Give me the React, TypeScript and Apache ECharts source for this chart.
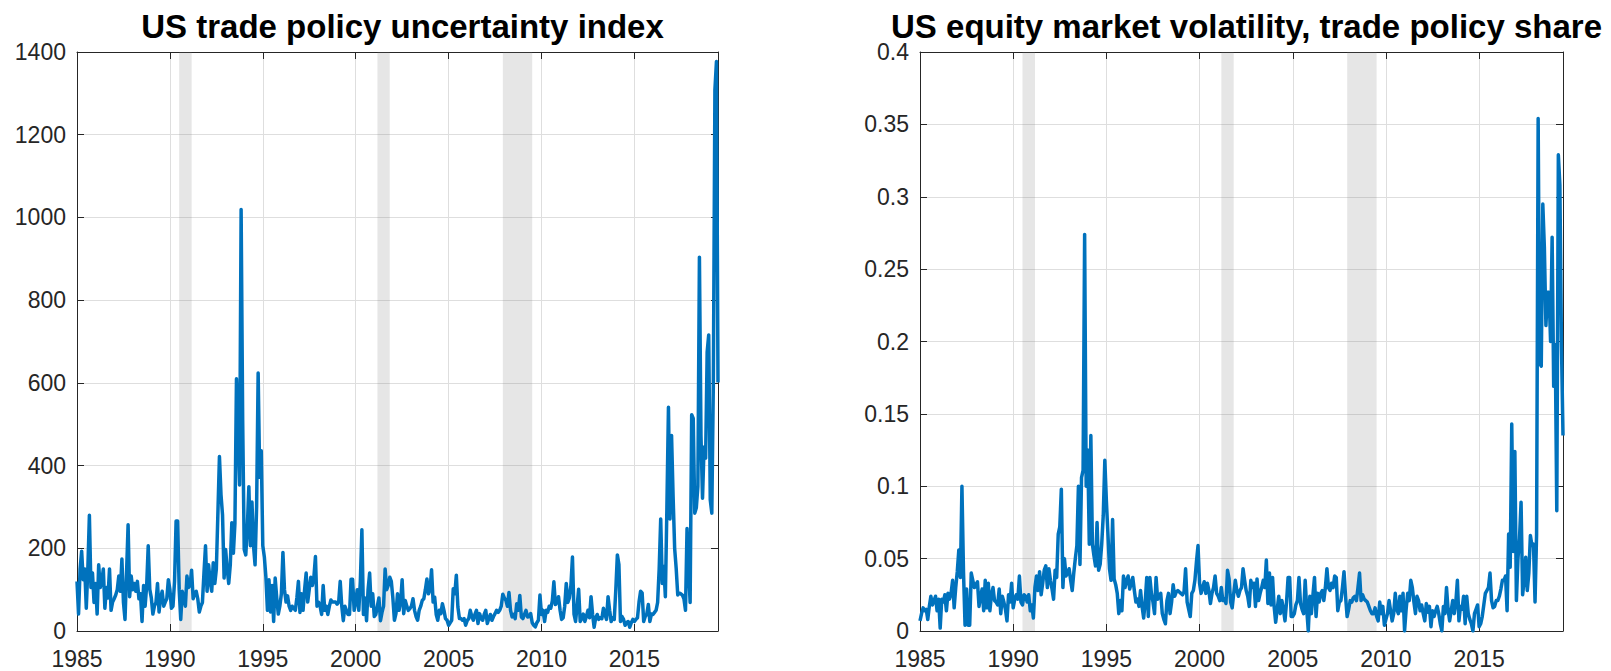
import React, { useEffect, useRef } from "react";
import * as echarts from "echarts";

const START_YEAR = 1985;

// US trade policy uncertainty index, monthly from Jan 1985
const tpuIndex = [
  120, 41, 150, 193, 124, 150, 55, 150, 280, 105, 140, 69,
  115, 41, 160, 105, 120, 150, 55, 105, 80, 150, 50, 70,
  78, 87, 100, 133, 96, 174, 69, 28, 140, 257, 83, 133,
  100, 115, 96, 120, 78, 90, 23, 110, 60, 110, 206, 101,
  80, 41, 60, 69, 115, 46, 80, 96, 60, 70, 78, 124,
  100, 55, 60, 120, 266, 266, 100, 28, 96, 80, 60, 133,
  105, 110, 147, 78, 90, 96, 78, 46, 60, 69, 140, 206,
  96, 160, 120, 96, 165, 115, 150, 285, 422, 330, 280, 128,
  197, 150, 115, 160, 262, 188, 260, 610, 491, 353, 1019, 510,
  197, 184, 250, 349, 206, 312, 206, 160, 300, 624, 372, 436,
  206, 179, 130, 50, 124, 46, 110, 23, 128, 80, 41, 60,
  90, 190, 100, 70, 85, 60, 50, 60, 55, 50, 80, 120,
  45, 90, 50, 100, 140, 70, 100, 130, 110, 130, 180, 60,
  70, 60, 40, 110, 50, 60, 40, 60, 75, 70, 70, 70,
  65, 70, 120, 60, 25, 60, 50, 40, 40, 125, 125, 50,
  70, 100, 50, 120, 245, 40, 80, 25, 100, 140, 60, 90,
  35, 40, 60, 80, 25, 45, 60, 150, 100, 110, 130, 120,
  80, 26, 42, 90, 50, 70, 124, 42, 74, 60, 50, 54,
  60, 78, 50, 35, 26, 50, 60, 74, 78, 100, 126, 90,
  100, 148, 70, 82, 40, 26, 50, 42, 66, 50, 30, 26,
  14, 20, 26, 102, 90, 135, 58, 30, 30, 26, 30, 14,
  25, 30, 50, 35, 26, 40, 50, 18, 42, 30, 26, 40,
  50, 18, 30, 40, 26, 35, 42, 50, 45, 50, 60, 89,
  80, 74, 60, 93, 50, 34, 40, 30, 66, 50, 86, 34,
  30, 40, 50, 34, 35, 42, 20, 14, 10, 20, 26, 87,
  40, 50, 23, 50, 45, 60, 55, 73, 119, 64, 70, 83,
  50, 28, 32, 60, 115, 69, 80, 110, 179, 41, 23, 60,
  101, 23, 30, 41, 23, 35, 50, 32, 83, 40, 9, 32,
  40, 28, 32, 30, 55, 40, 28, 83, 50, 23, 32, 28,
  100, 184, 161, 23, 35, 28, 14, 20, 23, 9, 20, 28,
  23, 28, 32, 70, 96, 92, 23, 35, 41, 64, 23, 41,
  40, 45, 50, 69, 150, 271, 115, 156, 83, 300, 541, 271,
  473, 326, 200, 151, 87, 92, 90, 87, 78, 50, 248, 150,
  69, 523, 514, 285, 298, 350, 904, 473, 321, 445, 418, 675,
  716, 317, 285, 601, 1308, 1377, 601,
];

// US equity market volatility, trade policy share, monthly from Jan 1985
const tradeShare = [
  0.007, 0.012, 0.016, 0.014, 0.015, 0.008, 0.017, 0.024, 0.018, 0.021, 0.024, 0.014,
  0.022, 0.002, 0.022, 0.020, 0.025, 0.014, 0.026, 0.022, 0.026, 0.035, 0.016, 0.030,
  0.041, 0.056, 0.037, 0.100, 0.041, 0.004, 0.029, 0.004, 0.004, 0.040, 0.035, 0.030,
  0.032, 0.034, 0.017, 0.024, 0.029, 0.014, 0.035, 0.016, 0.033, 0.014, 0.025, 0.030,
  0.021, 0.020, 0.018, 0.029, 0.012, 0.024, 0.020, 0.015, 0.007, 0.025, 0.020, 0.033,
  0.016, 0.022, 0.025, 0.022, 0.038, 0.020, 0.018, 0.025, 0.024, 0.020, 0.025, 0.014,
  0.018, 0.009, 0.030, 0.038, 0.028, 0.041, 0.025, 0.033, 0.042, 0.045, 0.030, 0.043,
  0.035, 0.029, 0.022, 0.042, 0.037, 0.067, 0.072, 0.098, 0.030, 0.050, 0.038, 0.040,
  0.043, 0.035, 0.028, 0.040, 0.050, 0.059, 0.100, 0.046, 0.106, 0.111, 0.274, 0.100,
  0.125, 0.060, 0.135, 0.060, 0.052, 0.045, 0.075, 0.042, 0.046, 0.060, 0.080, 0.118,
  0.090, 0.067, 0.043, 0.035, 0.077, 0.036, 0.032, 0.026, 0.012, 0.021, 0.014, 0.038,
  0.030, 0.035, 0.038, 0.029, 0.033, 0.037, 0.028, 0.020, 0.022, 0.017, 0.028, 0.017,
  0.009, 0.020, 0.037, 0.010, 0.037, 0.026, 0.020, 0.012, 0.037, 0.022, 0.024, 0.026,
  0.012, 0.008, 0.005, 0.021, 0.026, 0.012, 0.020, 0.032, 0.024, 0.027, 0.028, 0.027,
  0.026, 0.025, 0.027, 0.043, 0.020, 0.015, 0.010, 0.026, 0.028, 0.035, 0.048, 0.059,
  0.033, 0.026, 0.030, 0.034, 0.026, 0.033, 0.028, 0.019, 0.026, 0.030, 0.038, 0.026,
  0.024, 0.021, 0.030, 0.021, 0.022, 0.019, 0.042, 0.036, 0.020, 0.016, 0.026, 0.035,
  0.028, 0.024, 0.028, 0.030, 0.043, 0.035, 0.028, 0.024, 0.017, 0.035, 0.030, 0.033,
  0.017, 0.036, 0.021, 0.026, 0.030, 0.035, 0.030, 0.049, 0.019, 0.040, 0.018, 0.037,
  0.017, 0.006, 0.015, 0.024, 0.012, 0.021, 0.015, 0.007, 0.020, 0.037, 0.037, 0.010,
  0.010, 0.012, 0.018, 0.021, 0.037, 0.019, 0.015, 0.012, 0.035, 0.015, 0.000, 0.024,
  0.012, 0.025, 0.037, 0.010, 0.026, 0.020, 0.026, 0.028, 0.021, 0.030, 0.043, 0.030,
  0.028, 0.033, 0.030, 0.038, 0.037, 0.014, 0.020, 0.021, 0.030, 0.041, 0.024, 0.010,
  0.015, 0.021, 0.020, 0.023, 0.024, 0.021, 0.030, 0.040, 0.021, 0.025, 0.022, 0.021,
  0.020, 0.017, 0.014, 0.012, 0.012, 0.016, 0.010, 0.007, 0.020, 0.012, 0.017, 0.004,
  0.008, 0.012, 0.021, 0.014, 0.007, 0.012, 0.026, 0.015, 0.012, 0.024, 0.014, 0.026,
  0.000, 0.015, 0.026, 0.021, 0.035, 0.030, 0.020, 0.012, 0.024, 0.021, 0.014, 0.018,
  0.012, 0.007, 0.019, 0.013, 0.017, 0.003, 0.014, 0.010, 0.014, 0.017, 0.012, 0.005,
  0.000, 0.017, 0.012, 0.030, 0.015, 0.007, 0.014, 0.021, 0.012, 0.020, 0.035, 0.007,
  0.017, 0.015, 0.024, 0.005, 0.024, 0.012, 0.008, 0.005, 0.000, 0.012, 0.015, 0.018,
  0.003, 0.005, 0.010, 0.018, 0.026, 0.028, 0.030, 0.040, 0.021, 0.016, 0.017, 0.021,
  0.021, 0.024, 0.029, 0.035, 0.035, 0.038, 0.014, 0.067, 0.044, 0.143, 0.055, 0.124,
  0.021, 0.050, 0.064, 0.089, 0.025, 0.035, 0.051, 0.028, 0.040, 0.066, 0.059, 0.060,
  0.020, 0.067, 0.354, 0.185, 0.183, 0.295, 0.265, 0.211, 0.234, 0.234, 0.200, 0.272,
  0.169, 0.198, 0.083, 0.329, 0.308, 0.198, 0.135,
];

// NBER recessions (start, end) in decimal years
const recessions = [
  [1990.5, 1991.17],
  [2001.17, 2001.83],
  [2007.92, 2009.5],
];

const X_MIN = 1985;
const X_MAX = 2019.5;
const X_INTERVAL = 5;

const titles = [
  "US trade policy uncertainty index",
  "US equity market volatility, trade policy share",
];

const yRanges = [
  { min: 0, max: 1400, interval: 200 },
  { min: 0, max: 0.4, interval: 0.05 },
];

const FONT = 'Arial, "Liberation Sans", Helvetica, sans-serif';
const AXIS_COLOR = "#262626";
const GRID_COLOR = "#dedede";
const LINE_COLOR = "#0072BD";

const grids = [
  { left: 77, top: 52, width: 641, height: 579 },
  { left: 920, top: 52, width: 643, height: 579 },
];

function toPairs(values: number[]) {
  return values.map((v, i) => [START_YEAR + i / 12, v]);
}

export default function App() {
  const ref = useRef<HTMLDivElement>(null);

  useEffect(() => {
    if (!ref.current) return;
    const chart = echarts.init(ref.current, null, { renderer: "svg" });

    const xAxes: any[] = [];
    const yAxes: any[] = [];
    grids.forEach((_, g) => {
      xAxes.push({
        type: "value",
        gridIndex: g,
        position: "bottom",
        min: X_MIN,
        max: X_MAX,
        interval: X_INTERVAL,
        axisLine: { show: true, onZero: false, lineStyle: { color: AXIS_COLOR, width: 1 } },
        axisTick: { show: true, inside: true, length: 7, lineStyle: { color: AXIS_COLOR } },
        axisLabel: {
          show: true,
          margin: 16,
          color: AXIS_COLOR,
          fontSize: 23,
          fontFamily: FONT,
          showMaxLabel: false,
          formatter: (v: number) => (Math.abs(v % 5) < 1e-6 ? String(Math.round(v)) : ""),
        },
        splitLine: { show: true, lineStyle: { color: GRID_COLOR, width: 1 } },
      });
      xAxes.push({
        type: "value",
        gridIndex: g,
        position: "top",
        min: X_MIN,
        max: X_MAX,
        interval: X_INTERVAL,
        axisLine: { show: true, onZero: false, lineStyle: { color: AXIS_COLOR, width: 1 } },
        axisTick: { show: true, inside: true, length: 7, lineStyle: { color: AXIS_COLOR } },
        axisLabel: { show: false },
        splitLine: { show: false },
      });
      const yr = yRanges[g];
      yAxes.push({
        type: "value",
        gridIndex: g,
        position: "left",
        min: yr.min,
        max: yr.max,
        interval: yr.interval,
        axisLine: { show: true, onZero: false, lineStyle: { color: AXIS_COLOR, width: 1 } },
        axisTick: { show: true, inside: true, length: 7, lineStyle: { color: AXIS_COLOR } },
        axisLabel: {
          show: true,
          margin: 11,
          color: AXIS_COLOR,
          fontSize: 23,
          fontFamily: FONT,
          formatter: (v: number) => String(parseFloat(v.toFixed(3))),
        },
        splitLine: { show: true, lineStyle: { color: GRID_COLOR, width: 1 } },
      });
      yAxes.push({
        type: "value",
        gridIndex: g,
        position: "right",
        min: yr.min,
        max: yr.max,
        interval: yr.interval,
        axisLine: { show: true, onZero: false, lineStyle: { color: AXIS_COLOR, width: 1 } },
        axisTick: { show: true, inside: true, length: 7, lineStyle: { color: AXIS_COLOR } },
        axisLabel: { show: false },
        splitLine: { show: false },
      });
    });

    const seriesData = [tpuIndex, tradeShare];

    const option: any = {
      animation: false,
      backgroundColor: "#ffffff",
      title: grids.map((gr, g) => ({
        text: titles[g],
        left: gr.left + gr.width / 2,
        top: 5,
        textAlign: "center",
        textStyle: { fontSize: 33, lineHeight: 33, fontWeight: "bold", color: "#000000", fontFamily: FONT },
      })),
      grid: grids.map((gr) => ({ ...gr, containLabel: false })),
      xAxis: xAxes,
      yAxis: yAxes,
      series: seriesData.map((vals, g) => ({
        type: "line",
        xAxisIndex: g * 2,
        yAxisIndex: g * 2,
        data: toPairs(vals),
        showSymbol: false,
        symbol: "none",
        clip: true,
        lineStyle: { color: LINE_COLOR, width: 3.5, join: "round" },
        z: 3,
        markArea: {
          silent: true,
          itemStyle: { color: "rgba(120,120,120,0.19)" },
          data: recessions.map(([a, b]) => [{ xAxis: a }, { xAxis: b }]),
        },
      })),
    };

    chart.setOption(option);
    return () => chart.dispose();
  }, []);

  return (
    <div
      ref={ref}
      style={{ position: "fixed", left: 0, top: 0, width: 1611, height: 671, background: "#fff" }}
    />
  );
}
